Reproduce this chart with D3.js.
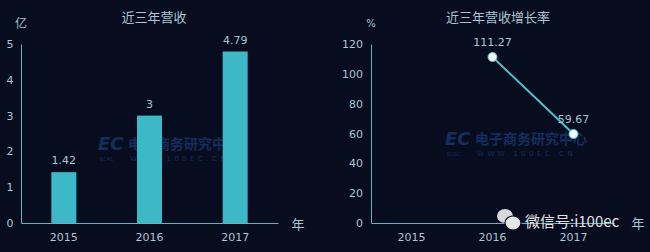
<!DOCTYPE html>
<html><head><meta charset="utf-8">
<script src="https://cdn.jsdelivr.net/npm/d3@7"></script>
<style>
html,body{margin:0;padding:0;background:#080c1f;}
svg{display:block;}
text{font-family:"DejaVu Sans","Noto Sans CJK SC",sans-serif;}
.cjk{font-family:"Noto Sans CJK SC",sans-serif;}
</style></head>
<body>
<svg id="c" width="650" height="252"></svg>
<script>
const years = ["2015","2016","2017"];
const revenue = [1.42, 3, 4.79];
const revenueLabels = ["1.42","3","4.79"];
const revenueTicks = [0,1,2,3,4,5];
const growthYears = ["2016","2017"];
const growth = [111.27, 59.67];
const growthLabels = ["111.27","59.67"];
const growthTicks = [0,20,40,60,80,100,120];

const svg = d3.select("#c");
const txt = "#a9c6d6", axisCol = "#5fb5bd", barCol = "#3db8c6";
svg.append("rect").attr("width",650).attr("height",252).attr("fill","#080c1f");

function watermark(x, y){
  const g = svg.append("g").attr("opacity",0.5);
  g.append("text").attr("x",x).attr("y",y).attr("fill","#1f4f9a").attr("font-size",18).attr("font-weight","bold").attr("font-style","italic").text("EC");
  g.append("text").attr("class","cjk").attr("x",x+30).attr("y",y-1).attr("fill","#1f4f9a").attr("font-size",14).attr("font-weight","bold").text("电子商务研究中心");
  g.append("text").attr("x",x+2).attr("y",y+11).attr("fill","#1f4f9a").attr("font-size",5).text("ECRC");
  g.append("text").attr("x",x+32).attr("y",y+11).attr("fill","#1f4f9a").attr("font-size",7).attr("letter-spacing",3.5).text("WWW.100EC.CN");
}

// ---------- left chart ----------
const xL = d3.scaleBand().domain(years).range([21, 278]);
const yL = d3.scaleLinear().domain([0,5]).range([223, 44]);
watermark(98, 150);
const gL = svg.append("g");
gL.selectAll("rect.bar").data(revenue).join("rect").attr("class","bar")
  .attr("x",(d,i)=>xL(years[i])+xL.bandwidth()/2-12.5).attr("width",25)
  .attr("y",d=>yL(d)).attr("height",d=>yL(0)-yL(d)).attr("fill",barCol);
gL.selectAll("text.vl").data(revenue).join("text").attr("class","vl")
  .attr("x",(d,i)=>xL(years[i])+xL.bandwidth()/2).attr("y",d=>yL(d)-8)
  .attr("text-anchor","middle").attr("fill",txt).attr("font-size",11).text((d,i)=>revenueLabels[i]);
const axL = gL.append("g").attr("transform","translate(21,0)").call(d3.axisLeft(yL).tickValues(revenueTicks).tickFormat(d3.format("d")).tickSize(0).tickPadding(8));
axL.select(".domain").attr("stroke",axisCol);
axL.selectAll("text").attr("fill",txt).attr("font-size",11).attr("text-anchor","middle").attr("dx",-3);
const axLb = gL.append("g").attr("transform","translate(0,223)").call(d3.axisBottom(xL).tickSize(0).tickPadding(10));
axLb.select(".domain").attr("stroke",axisCol);
axLb.selectAll("text").attr("fill",txt).attr("font-size",11);
gL.append("text").attr("class","cjk").attr("x",154).attr("y",22).attr("text-anchor","middle").attr("fill",txt).attr("font-size",13).text("近三年营收");
gL.append("text").attr("class","cjk").attr("x",21).attr("y",28).attr("text-anchor","middle").attr("fill",txt).attr("font-size",12).text("亿");
gL.append("text").attr("class","cjk").attr("x",298).attr("y",229).attr("text-anchor","middle").attr("fill",txt).attr("font-size",13).text("年");

// ---------- right chart ----------
const xR = d3.scaleBand().domain(years).range([371, 614]);
const yR = d3.scaleLinear().domain([0,120]).range([223, 44]);
watermark(445, 145);
const gR = svg.append("g");
const axR = gR.append("g").attr("transform","translate(371,0)").call(d3.axisLeft(yR).tickValues(growthTicks).tickSize(0).tickPadding(8));
axR.select(".domain").attr("stroke",axisCol);
axR.selectAll("text").attr("fill",txt).attr("font-size",11);
const axRb = gR.append("g").attr("transform","translate(0,223)").call(d3.axisBottom(xR).tickSize(0).tickPadding(10));
axRb.select(".domain").attr("stroke",axisCol);
axRb.selectAll("text").attr("fill",txt).attr("font-size",11);
const cx = (d,i)=>xR(growthYears[i])+xR.bandwidth()/2;
gR.append("path").datum(growth)
  .attr("d", d3.line().x(cx).y(d=>yR(d)))
  .attr("fill","none").attr("stroke","#4cc3c3").attr("stroke-width",2);
gR.selectAll("circle").data(growth).join("circle")
  .attr("cx",cx).attr("cy",d=>yR(d)).attr("r",4.5)
  .attr("fill","#f4fbfc").attr("stroke","#4cc3c3").attr("stroke-width",1);
gR.selectAll("text.vl").data(growth).join("text").attr("class","vl")
  .attr("x",cx).attr("y",d=>yR(d)-11).attr("text-anchor","middle")
  .attr("fill",txt).attr("font-size",11).text((d,i)=>growthLabels[i]);
gR.append("text").attr("class","cjk").attr("x",498).attr("y",22).attr("text-anchor","middle").attr("fill",txt).attr("font-size",13).text("近三年营收增长率");
gR.append("text").attr("x",371).attr("y",27).attr("text-anchor","middle").attr("fill",txt).attr("font-size",10).text("%");
gR.append("text").attr("class","cjk").attr("x",638).attr("y",228).attr("text-anchor","middle").attr("fill",txt).attr("font-size",13).text("年");

// WeChat watermark
const wc = svg.append("g");
wc.append("ellipse").attr("cx",505).attr("cy",216).attr("rx",8).attr("ry",7).attr("fill","#d8d8d8");
wc.append("ellipse").attr("cx",513).attr("cy",223).attr("rx",8).attr("ry",7).attr("fill","#e6e6e6").attr("stroke","#080c1f").attr("stroke-width",1.2);
wc.append("text").attr("class","cjk").attr("x",525).attr("y",227).attr("fill","#e2e2e2").attr("font-size",15).text("微信号:i100ec");
</script>
</body></html>
